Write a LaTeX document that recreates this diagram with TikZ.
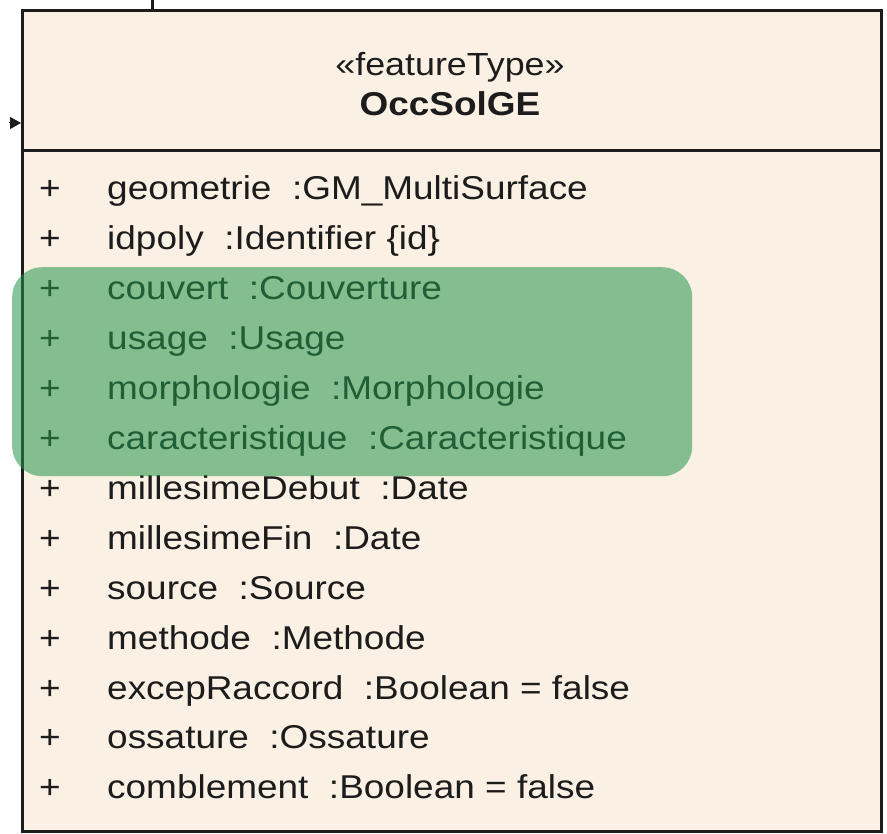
\documentclass[tikz,border=0pt]{standalone}
\usepackage{fontspec}
\setmainfont[FakeStretch=1.12]{Liberation Sans}
\usetikzlibrary{arrows.meta}
\definecolor{cream}{RGB}{250,240,227}
\definecolor{ink}{RGB}{28,28,28}
\definecolor{hl}{RGB}{36,150,75}
\tikzset{
  attr/.style={anchor=base west, inner sep=0pt, font=\fontsize{33}{33}\selectfont, text=ink},
  plus/.style={anchor=base, inner sep=0pt, font=\fontsize{33}{33}\selectfont, text=ink},
  frame/.style={draw=ink, line width=3pt, fill=cream},
}
\begin{document}
\begin{tikzpicture}[x=1pt,y=-1pt]
\useasboundingbox (0,0) rectangle (887,834);
\fill[white] (0,0) rectangle (887,834);
% class box
\node[frame, rectangle, minimum width=859pt, minimum height=821pt, anchor=north west, inner sep=0pt] (box) at (21,9) {};
\coordinate (sepL) at (21,151);
\coordinate (sepR) at (880,151);
\draw[ink, line width=3pt] (sepL) -- (sepR);
% connector stubs
\coordinate (top) at (152,0);
\draw[ink, line width=3pt] (top) -- (top |- box.north);
\coordinate (lin) at (9,123);
\draw[ink, line width=1pt, -{Triangle[length=11pt,width=12pt]}] (lin) -- (lin -| box.west);
% header
\node[font=\fontsize{32}{32}\selectfont, text=ink, inner sep=0pt, anchor=base] (stereo) at (450,76) {«featureType»};
\node[font=\fontsize{33}{33}\selectfont\bfseries, text=ink, inner sep=0pt, anchor=base] (name) at (450,116) {OccSolGE};
% attributes
\foreach \i/\t in {0/{geometrie\ \ :GM\_MultiSurface},
                   1/{idpoly\ \ :Identifier \{id\}},
                   2/{couvert\ \ :Couverture},
                   3/{usage\ \ :Usage},
                   4/{morphologie\ \ :Morphologie},
                   5/{caracteristique\ \ :Caracteristique},
                   6/{millesimeDebut\ \ :Date},
                   7/{millesimeFin\ \ :Date},
                   8/{source\ \ :Source},
                   9/{methode\ \ :Methode},
                   10/{excepRaccord\ \ :Boolean = false},
                   11/{ossature\ \ :Ossature},
                   12/{comblement\ \ :Boolean = false}} {
  \node[plus] (p\i) at (50,{200+49.9*\i}) {+};
  \node[attr] (a\i) at (107,{200+49.9*\i}) {\t};
}
% highlight
\node[draw=none, fill=hl, fill opacity=0.55, rounded corners=30pt, anchor=north west,
      minimum width=680pt, minimum height=209pt, inner sep=0pt] (hlbox) at (12,267) {};
\end{tikzpicture}
\end{document}
